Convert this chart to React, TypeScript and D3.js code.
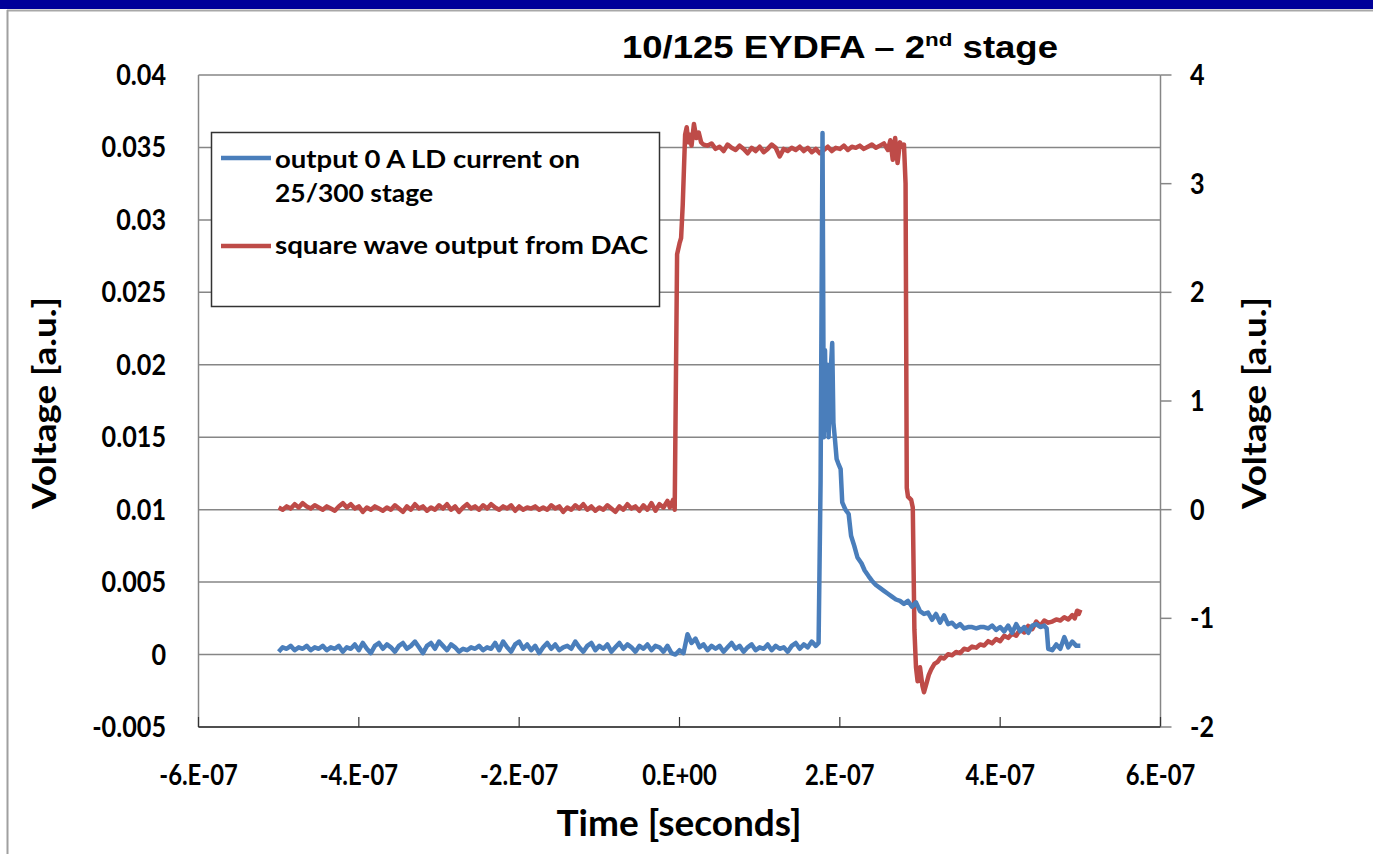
import React from "react";
import * as d3 from "d3";

// ---- data (time in ns) ----
const xTicks = [-6e-7, -4e-7, -2e-7, 0, 2e-7, 4e-7, 6e-7];
const xTickLabels = ["-6.E-07", "-4.E-07", "-2.E-07", "0.E+00", "2.E-07", "4.E-07", "6.E-07"];
const leftTicks = [-0.005, 0, 0.005, 0.01, 0.015, 0.02, 0.025, 0.03, 0.035, 0.04];
const leftTickLabels = ["-0.005", "0", "0.005", "0.01", "0.015", "0.02", "0.025", "0.03", "0.035", "0.04"];
const rightTicks = [-2, -1, 0, 1, 2, 3, 4];
const rightTickLabels = ["-2", "-1", "0", "1", "2", "3", "4"];

const seriesNames = ["output 0 A LD current on", "25/300 stage", "square wave output from DAC"];

const blueSeries: [number, number][] = [
  [-500, 0.0002], [-495, 0.0005], [-490, 0.0004], [-485, 0.0006], [-480, 0.0003], [-475, 0.0005],
  [-470, 0.0004], [-465, 0.0006], [-460, 0.0003], [-455, 0.0005], [-450, 0.0004], [-445, 0.0006],
  [-440, 0.0003], [-435, 0.0005], [-430, 0.0004], [-425, 0.0006], [-420, 0.0002], [-415, 0.0005],
  [-410, 0.0004], [-405, 0.0007], [-400, 0.0003], [-395, 0.0008], [-390, 0.0004], [-385, 0.0001],
  [-380, 0.0006], [-375, 0.0008], [-370, 0.0004], [-365, 0.0007], [-360, 0.0005], [-355, 0.0002],
  [-350, 0.0006], [-345, 0.0008], [-340, 0.0004], [-335, 0.0006], [-330, 0.0009], [-325, 0.0005],
  [-320, 0.0001], [-315, 0.0006], [-310, 0.0008], [-305, 0.0004], [-300, 0.0009], [-295, 0.0006],
  [-290, 0.0003], [-285, 0.0007], [-280, 0.0005], [-275, 0.0002], [-270, 0.0004], [-265, 0.0003],
  [-260, 0.0005], [-255, 0.0004], [-250, 0.0006], [-245, 0.0003], [-240, 0.0005], [-235, 0.0004],
  [-230, 0.0008], [-225, 0.0003], [-220, 0.0009], [-215, 0.0005], [-210, 0.0002], [-205, 0.0007],
  [-200, 0.0009], [-195, 0.0004], [-190, 0.0007], [-185, 0.0003], [-180, 0.0006], [-175, 0.0001],
  [-170, 0.0005], [-165, 0.0008], [-160, 0.0004], [-155, 0.0007], [-150, 0.0003], [-145, 0.0005],
  [-140, 0.0006], [-135, 0.0004], [-130, 0.0009], [-125, 0.0005], [-120, 0.0002], [-115, 0.0006],
  [-110, 0.0008], [-105, 0.0003], [-100, 0.0006], [-95, 0.0004], [-90, 0.0007], [-85, 0.0002],
  [-80, 0.0005], [-75, 0.0008], [-70, 0.0004], [-65, 0.0007], [-60, 0.0005], [-55, 0.0002],
  [-50, 0.0006], [-45, 0.0004], [-40, 0.0007], [-35, 0.0003], [-30, 0.0006], [-25, 0.0005],
  [-20, 0.0002], [-15, 0.0006], [-10, 0.0001], [-5, 0.0], [0, 0.0003], [5, 0.0001],
  [10, 0.0014], [15, 0.0008], [20, 0.0011], [25, 0.0005], [30, 0.0007], [35, 0.0003],
  [40, 0.0006], [45, 0.0004], [50, 0.0006], [55, 0.0002], [60, 0.0005], [65, 0.0008],
  [70, 0.0004], [75, 0.0006], [80, 0.0002], [85, 0.0005], [90, 0.0007], [95, 0.0003],
  [100, 0.0005], [105, 0.0004], [110, 0.0007], [115, 0.0003], [120, 0.0006], [125, 0.0004],
  [130, 0.0005], [135, 0.0002], [140, 0.0006], [145, 0.0008], [150, 0.0004], [155, 0.0007],
  [160, 0.0005], [165, 0.0009], [170, 0.0006], [173.5, 0.0008],
  [176, 0.012], [178.4, 0.036], [180, 0.015], [181.5, 0.021], [183, 0.0155], [184.5, 0.020],
  [186, 0.015], [188, 0.019], [190.5, 0.0215], [192, 0.016], [194, 0.0148], [196, 0.0135],
  [198, 0.0132], [201, 0.0128], [203, 0.0105], [207, 0.0100], [211, 0.0097], [214, 0.0082],
  [218, 0.0075], [222, 0.0067], [227, 0.0063], [231, 0.0058], [236, 0.0054], [240, 0.0051],
  [245, 0.0048], [250, 0.0046], [255, 0.0044], [260, 0.0042], [265, 0.0040], [270, 0.0038],
  [275, 0.0037], [280, 0.0035], [285, 0.0037], [290, 0.0033], [295, 0.0036], [300, 0.0030],
  [305, 0.0028], [310, 0.0029], [315, 0.0024], [320, 0.0028], [325, 0.0022], [330, 0.0027],
  [335, 0.0021], [340, 0.0022], [345, 0.0019], [350, 0.0021], [355, 0.0018], [360, 0.0019],
  [365, 0.0019], [370, 0.0018], [375, 0.0019], [380, 0.0019], [385, 0.0018], [390, 0.0020],
  [395, 0.0017], [400, 0.0019], [405, 0.0016], [410, 0.0020], [415, 0.0015], [420, 0.0021],
  [425, 0.0016], [430, 0.0019], [435, 0.0015], [440, 0.0020], [445, 0.0021], [450, 0.0019],
  [455, 0.0020], [458, 0.0018], [460, 0.0004], [465, 0.0003], [470, 0.0007], [475, 0.0004],
  [480, 0.0012], [485, 0.0005], [490, 0.0009], [495, 0.0006], [500, 0.0006],
];

const redSeries: [number, number][] = [
  [-500, 0.02], [-495, 0.0], [-490, 0.03], [-485, 0.01], [-480, 0.05], [-475, 0.02],
  [-470, 0.06], [-465, 0.03], [-460, 0.01], [-455, 0.04], [-450, 0.02], [-445, 0.0],
  [-440, 0.03], [-435, 0.01], [-430, -0.01], [-425, 0.03], [-420, 0.06], [-415, 0.02],
  [-410, 0.05], [-405, 0.01], [-400, 0.03], [-395, -0.02], [-390, 0.02], [-385, 0.0],
  [-380, 0.03], [-375, 0.01], [-370, -0.01], [-365, 0.02], [-360, 0.0], [-355, 0.04],
  [-350, 0.01], [-345, -0.02], [-340, 0.03], [-335, 0.0], [-330, 0.05], [-325, 0.01],
  [-320, 0.03], [-315, -0.01], [-310, 0.02], [-305, 0.0], [-300, 0.04], [-295, 0.01],
  [-290, 0.05], [-285, 0.0], [-280, 0.03], [-275, -0.02], [-270, 0.02], [-265, 0.05],
  [-260, 0.01], [-255, 0.03], [-250, 0.0], [-245, 0.04], [-240, 0.01], [-235, 0.05],
  [-230, 0.02], [-225, 0.0], [-220, 0.03], [-215, 0.01], [-210, 0.04], [-205, -0.01],
  [-200, 0.03], [-195, 0.0], [-190, 0.02], [-185, 0.01], [-180, 0.03], [-175, 0.0],
  [-170, 0.02], [-165, 0.0], [-160, 0.04], [-155, 0.01], [-150, 0.03], [-145, -0.02],
  [-140, 0.02], [-135, 0.0], [-130, 0.04], [-125, 0.01], [-120, 0.05], [-115, 0.0],
  [-110, 0.03], [-105, -0.01], [-100, 0.02], [-95, 0.0], [-90, 0.04], [-85, 0.01],
  [-80, -0.02], [-75, 0.03], [-70, 0.0], [-65, 0.05], [-60, 0.01], [-55, 0.03],
  [-50, -0.01], [-45, 0.04], [-40, 0.0], [-35, 0.06], [-30, -0.01], [-25, 0.05],
  [-20, 0.02], [-15, 0.08], [-12, 0.02], [-8, 0.09], [-6, 0.0],
  [-3, 2.35], [0, 2.45], [2, 2.5], [4, 2.8], [7, 3.45], [9, 3.52], [11, 3.38], [13, 3.45],
  [15, 3.35], [18, 3.55], [21, 3.42], [24, 3.47], [27, 3.38], [30, 3.36],
  [35, 3.35], [40, 3.37], [45, 3.32], [50, 3.34], [55, 3.30], [60, 3.36], [65, 3.33],
  [70, 3.31], [75, 3.35], [80, 3.32], [85, 3.28], [90, 3.33], [95, 3.30], [100, 3.34],
  [105, 3.29], [110, 3.32], [115, 3.36], [120, 3.33], [125, 3.25], [130, 3.32], [135, 3.30],
  [140, 3.33], [145, 3.31], [150, 3.34], [155, 3.30], [160, 3.33], [165, 3.29], [170, 3.32],
  [175, 3.28], [180, 3.31], [185, 3.34], [190, 3.30], [195, 3.33], [200, 3.32], [205, 3.35],
  [210, 3.31], [215, 3.34], [220, 3.33], [225, 3.35], [230, 3.32], [235, 3.34], [240, 3.36],
  [245, 3.33], [250, 3.35], [255, 3.37], [260, 3.31], [263, 3.40], [266, 3.22], [269, 3.42],
  [272, 3.19], [275, 3.38], [278, 3.34], [280, 3.36], [282, 3.0], [283.5, 0.2], [285, 0.12],
  [289, 0.09], [291, 0.02], [293, -1.1], [295, -1.45], [297, -1.58], [300, -1.45],
  [303, -1.62], [305, -1.68], [308, -1.6], [311, -1.52], [314, -1.47], [318, -1.42],
  [322, -1.40], [326, -1.36], [330, -1.37], [335, -1.33], [340, -1.34], [345, -1.31],
  [350, -1.32], [355, -1.28], [360, -1.29], [365, -1.26], [370, -1.27], [375, -1.24],
  [380, -1.25], [385, -1.21], [390, -1.23], [395, -1.19], [400, -1.21], [405, -1.16],
  [410, -1.18], [415, -1.14], [420, -1.16], [425, -1.10], [430, -1.13], [435, -1.07],
  [440, -1.10], [445, -1.03], [450, -1.07], [455, -1.02], [460, -1.04], [465, -1.03],
  [470, -1.01], [475, -1.02], [480, -0.99], [485, -1.01], [490, -0.97], [493, -1.0],
  [496, -0.93], [498, -0.96], [500, -0.92],
];

const BLUE = "#4a7ebb";
const RED = "#be4b48";
const GRID = "#868686";
const CAL = "Lato, 'Open Sans', sans-serif";

export default function App() {
  const W = 1373, H = 854;
  const left = 198.5, right = 1160.5, top = 75, bottom = 727;
  const x = d3.scaleLinear().domain([-6e-7, 6e-7]).range([left, right]);
  const yL = d3.scaleLinear().domain([-0.005, 0.04]).range([bottom, top]);
  const yR = d3.scaleLinear().domain([-2, 4]).range([bottom, top]);

  const blueLine = d3.line<[number, number]>()
    .x((d) => x(d[0] * 1e-9))
    .y((d) => yL(d[1]));
  const redLine = d3.line<[number, number]>()
    .x((d) => x(d[0] * 1e-9))
    .y((d) => yR(d[1]));

  return (
    <svg width={W} height={H} style={{ position: "absolute", left: 0, top: 0, display: "block", background: "#fff" }}>
      {/* frame */}
      <rect x={0} y={0} width={W} height={9} fill="#000099" />
      <line x1={7} x2={W} y1={10.5} y2={10.5} stroke="#a8a8a8" strokeWidth={2} />
      <line x1={7.5} x2={7.5} y1={10} y2={H} stroke="#a0a0a0" strokeWidth={2} />

      {/* title */}
      <text x={622} y={58} fontFamily="'Liberation Sans', Arial, sans-serif" fontWeight="bold" fontSize={31}
        textLength={436} lengthAdjust="spacingAndGlyphs" fill="#000">
        10/125 EYDFA – 2<tspan fontSize={19} dy={-12}>nd</tspan><tspan dy={12}> stage</tspan>
      </text>

      {/* gridlines */}
      {leftTicks.map((t) => (
        <line key={"g" + t} x1={left} x2={right} y1={yL(t)} y2={yL(t)} stroke={GRID} strokeWidth={1.5} />
      ))}
      {/* axes */}
      <line x1={left} x2={left} y1={top} y2={bottom} stroke={GRID} strokeWidth={1.5} />
      <line x1={right} x2={right} y1={top} y2={bottom} stroke={GRID} strokeWidth={1.5} />
      <line x1={left} x2={right} y1={bottom} y2={bottom} stroke="#333" strokeWidth={1.5} />
      {xTicks.map((t) => (
        <line key={"xt" + t} x1={x(t)} x2={x(t)} y1={bottom} y2={bottom - 10} stroke="#333" strokeWidth={1.2} />
      ))}
      {rightTicks.map((t) => (
        <line key={"rt" + t} x1={right} x2={right + 11} y1={yR(t)} y2={yR(t)} stroke={GRID} strokeWidth={1.5} />
      ))}

      {/* tick labels */}
      {leftTicks.map((t, i) => (
        <text key={"lt" + t} transform={`translate(166,${yL(t) + 10}) scale(0.9,1)`} textAnchor="end"
          fontFamily={CAL} fontWeight="bold" fontSize={28} fill="#000">{leftTickLabels[i]}</text>
      ))}
      {rightTicks.map((t, i) => (
        <text key={"rl" + t} transform={`translate(1190,${yR(t) + 10}) scale(0.9,1)`} textAnchor="start"
          fontFamily={CAL} fontWeight="bold" fontSize={28} fill="#000">{rightTickLabels[i]}</text>
      ))}
      {xTicks.map((t, i) => (
        <text key={"xl" + t} transform={`translate(${x(t)},785) scale(0.82,1)`} textAnchor="middle"
          fontFamily={CAL} fontWeight="bold" fontSize={29} fill="#000">{xTickLabels[i]}</text>
      ))}

      {/* axis titles */}
      <text x={679} y={836} textAnchor="middle" fontFamily={CAL} fontWeight="bold" fontSize={37}
        textLength={245} lengthAdjust="spacingAndGlyphs" fill="#000">Time [seconds]</text>
      <text transform="translate(56,403) rotate(-90)" textAnchor="middle" fontFamily={CAL} fontWeight="bold"
        fontSize={32} textLength={212} lengthAdjust="spacingAndGlyphs" fill="#000">Voltage [a.u.]</text>
      <text transform="translate(1266,403) rotate(-90)" textAnchor="middle" fontFamily={CAL} fontWeight="bold"
        fontSize={32} textLength={212} lengthAdjust="spacingAndGlyphs" fill="#000">Voltage [a.u.]</text>

      {/* series */}
      <path d={redLine(redSeries) || ""} fill="none" stroke={RED} strokeWidth={4.5} strokeLinejoin="round" />
      <path d={blueLine(blueSeries) || ""} fill="none" stroke={BLUE} strokeWidth={4.5} strokeLinejoin="round" />

      {/* legend */}
      <rect x={211.5} y={132.5} width={448} height={174} fill="#fff" stroke="#333" strokeWidth={1.5} />
      <line x1={221} x2={271} y1={158} y2={158} stroke={BLUE} strokeWidth={4.5} />
      <text x={275} y={168} fontFamily={CAL} fontWeight="bold" fontSize={24} textLength={305}
        lengthAdjust="spacingAndGlyphs" fill="#000">{seriesNames[0]}</text>
      <text x={275} y={202} fontFamily={CAL} fontWeight="bold" fontSize={24} textLength={158}
        lengthAdjust="spacingAndGlyphs" fill="#000">{seriesNames[1]}</text>
      <line x1={221} x2={271} y1={246} y2={246} stroke={RED} strokeWidth={4.5} />
      <text x={275} y={254} fontFamily={CAL} fontWeight="bold" fontSize={24} textLength={373}
        lengthAdjust="spacingAndGlyphs" fill="#000">{seriesNames[2]}</text>
    </svg>
  );
}
